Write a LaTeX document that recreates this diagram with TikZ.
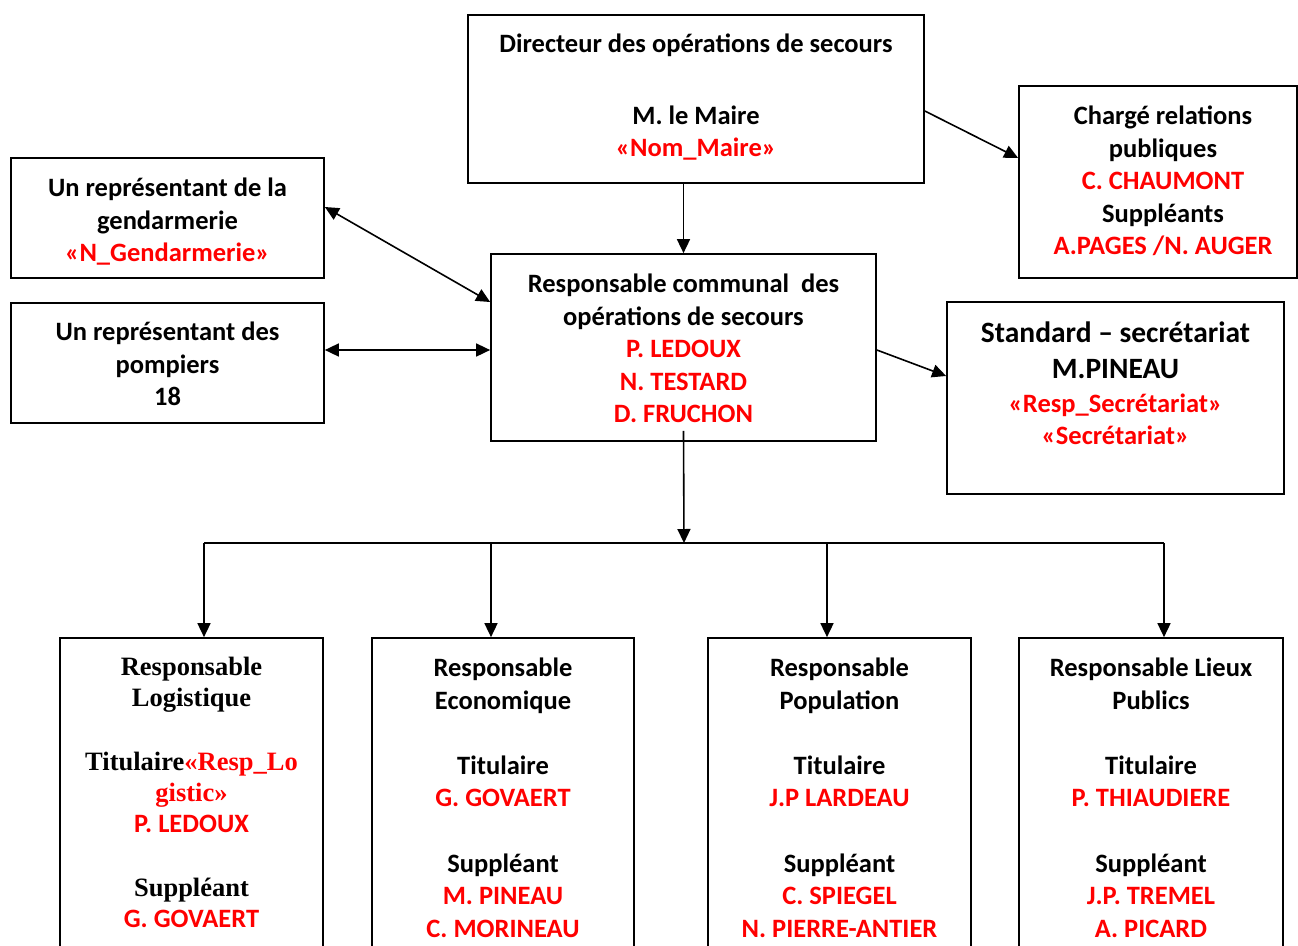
\documentclass[tikz,border=0pt]{standalone}
\usepackage{fontspec}
\setmainfont{Carlito}
\newfontfamily\tnr{Liberation Serif}
\usetikzlibrary{arrows.meta}
\definecolor{rd}{RGB}{255,0,0}
\newcommand{\R}[1]{\textcolor{rd}{#1}}
\begin{document}
\begin{tikzpicture}[x=1pt,y=-1pt,
  box/.style={draw,line width=1.7pt,rectangle,inner sep=0pt},
  txt/.style={align=center,inner sep=0pt,anchor=north,font=\fontsize{26.5}{32.5}\selectfont\bfseries},
  ttxt/.style={align=center,inner sep=0pt,anchor=north,font=\fontsize{26.5}{31}\selectfont\tnr\bfseries},
  stxt/.style={align=center,inner sep=0pt,anchor=north,font=\fontsize{29.5}{36}\selectfont\bfseries},
  arr/.style={line width=1.6pt,-{Triangle[length=14pt,width=13pt]}},
  darr/.style={line width=1.6pt,{Triangle[length=14pt,width=13pt]}-{Triangle[length=14pt,width=13pt]}},
  ln/.style={line width=1.6pt}]
\useasboundingbox (0,0) rectangle (1298,945);
\clip (0,0) rectangle (1298,945);
% boxes
\node[box,minimum width=456pt,minimum height=168pt] (dir) at (696,99) {};
\node[box,minimum width=278pt,minimum height=192pt] (char) at (1158,182) {};
\node[box,minimum width=313pt,minimum height=120pt] (gend) at (167.5,218) {};
\node[box,minimum width=313pt,minimum height=120pt] (pomp) at (167.5,363) {};
\node[box,minimum width=385pt,minimum height=187pt] (comm) at (683.5,347.5) {};
\node[box,minimum width=337pt,minimum height=192pt] (std) at (1115.5,398) {};
\node[box,minimum width=263pt,minimum height=330pt] (log) at (191.5,803) {};
\node[box,minimum width=262pt,minimum height=330pt] (eco) at (503,803) {};
\node[box,minimum width=263pt,minimum height=330pt] (pop) at (839.5,803) {};
\node[box,minimum width=264pt,minimum height=330pt] (lieux) at (1151,803) {};
% texts
\node[txt] (dirt) at (696,30) {\strut Directeur des opérations de secours\\[39pt]M. le Maire\\\R{«Nom\_Maire»}};
\node[txt] (chart) at (1163,102) {\strut Chargé relations\\publiques\\\R{C. CHAUMONT}\\Suppléants\\\R{A.PAGES /N. AUGER}};
\node[txt] (gendt) at (167.5,174) {\strut Un représentant de la\\gendarmerie\\\R{«N\_Gendarmerie»}};
\node[txt] (pompt) at (167.5,318) {\strut Un représentant des\\pompiers\\18};
\node[txt] (commt) at (683.5,270) {\strut Responsable communal~~des\\opérations de secours\\\R{P. LEDOUX}\\\R{N. TESTARD}\\\R{D. FRUCHON}};
\node[stxt] (stdt) at (1115.5,317) {\strut Standard – secrétariat\\M.PINEAU\\[-1.5pt]{\fontsize{26.5}{32.5}\selectfont\R{«Resp\_Secrétariat»}}\\[-4pt]{\fontsize{26.5}{32.5}\selectfont\R{«Secrétariat»}}};
\node[ttxt] (logt) at (191.5,654) {\strut Responsable\\Logistique\\[33pt]Titulaire\R{«Resp\_Lo}\\\R{gistic»}\\{\fontsize{26.5}{32.5}\selectfont\rmfamily\R{P. LEDOUX}}\\[33pt]Suppléant\\{\fontsize{26.5}{32.5}\selectfont\rmfamily\R{G. GOVAERT}}};
\node[txt] (ecot) at (503,654) {\strut Responsable\\Economique\\[32.5pt]Titulaire\\\R{G. GOVAERT}\\[33pt]Suppléant\\\R{M. PINEAU}\\\R{C. MORINEAU}};
\node[txt] (popt) at (839.5,654) {\strut Responsable\\Population\\[32.5pt]Titulaire\\\R{J.P LARDEAU}\\[33pt]Suppléant\\\R{C. SPIEGEL}\\\R{N. PIERRE-ANTIER}};
\node[txt] (lieuxt) at (1151,654) {\strut Responsable Lieux\\Publics\\[32.5pt]Titulaire\\\R{P. THIAUDIERE}\\[33pt]Suppléant\\\R{J.P. TREMEL}\\\R{A. PICARD}};
% connectors
\draw[arr] (comm.north |- dir.south) -- (comm.north);
\draw[arr] ([yshift=-12pt]dir.east) -- ([yshift=24pt]char.west);
\draw[darr] ([yshift=11pt]gend.east) -- ([yshift=45.5pt]comm.west);
\draw[darr] ([yshift=13pt]pomp.east) -- ([yshift=13pt]pomp.east -| comm.west);
\draw[arr] ([yshift=-2.5pt]comm.east) -- ([yshift=22pt]std.west);
\coordinate (bus) at (684,543);
\coordinate (b1) at (204,543);
\coordinate (b2) at (491,543);
\coordinate (b3) at (827,543);
\coordinate (b4) at (1164,543);
\draw[arr] ([yshift=11pt]comm.south) -- (bus);
\draw[ln] (b1) -- (b4);
\draw[arr] (b1) -- (b1 |- log.north);
\draw[arr] (b2) -- (b2 |- eco.north);
\draw[arr] (b3) -- (b3 |- pop.north);
\draw[arr] (b4) -- (b4 |- lieux.north);
\end{tikzpicture}
\end{document}
